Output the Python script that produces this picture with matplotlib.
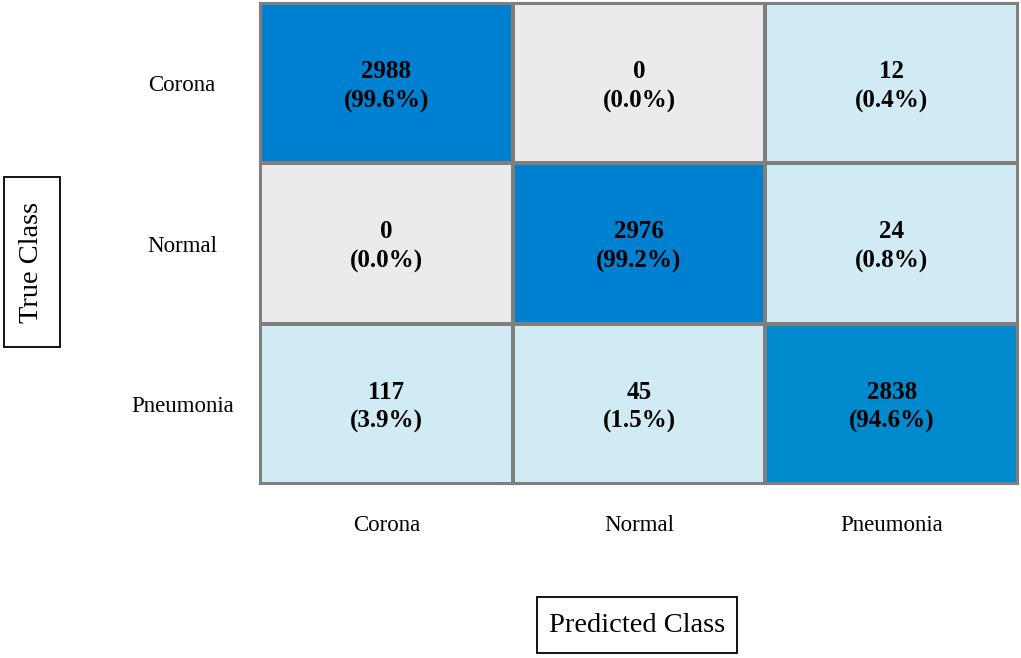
import numpy as np
import matplotlib.pyplot as plt
from matplotlib.colors import ListedColormap
from matplotlib.patches import Rectangle

plt.rcParams['font.family'] = ['Liberation Serif', 'DejaVu Serif']

classes = ['Corona', 'Normal', 'Pneumonia']
counts = np.array([[2988, 0, 12],
                   [0, 2976, 24],
                   [117, 45, 2838]])
percents = np.array([[99.6, 0.0, 0.4],
                     [0.0, 99.2, 0.8],
                     [3.9, 1.5, 94.6]])

# cell colour index: 0 = zero (grey), 1 = off-diagonal (light blue), 2/3 = diagonal
kind = np.where(percents == 0, 0, 1)
for i in range(3):
    kind[i, i] = 2 if percents[i, i] > 98 else 3
cmap = ListedColormap(['#ebebeb', '#d1ebf5', '#0080d0', '#0089cd'])

W, H = 1021, 658
fig = plt.figure(figsize=(W / 100, H / 100), dpi=100)
ax = fig.add_axes([260/W, 1 - 484/H, (1018-260)/W, (484-3)/H])

ax.pcolormesh(kind, cmap=cmap, vmin=-0.5, vmax=3.5,
              edgecolors='#7f7f7f', linewidth=1.5)
ax.set_xlim(0, 3)
ax.set_ylim(3, 0)

for i in range(3):
    for j in range(3):
        ax.text(j + 0.5, i + 0.52, f'{counts[i, j]}\n({percents[i, j]:.1f}%)',
                ha='center', va='center', fontsize=18, fontweight='bold',
                linespacing=1.35)

ax.set_xticks(np.arange(3) + 0.5)
ax.set_xticklabels(classes, fontsize=16.5)
ax.set_yticks(np.arange(3) + 0.5)
ax.set_yticklabels(classes, fontsize=16.5, ha='center')
ax.tick_params(axis='x', length=0, pad=22)
ax.tick_params(axis='y', length=0, pad=56)
for s in ax.spines.values():
    s.set_color('#7f7f7f')
    s.set_linewidth(1.5)

# axis title boxes (pixel geometry of the reference)
def box(x0, y0, x1, y1):
    fig.patches.append(Rectangle((x0 / W, 1 - y1 / H), (x1 - x0) / W, (y1 - y0) / H,
                                 transform=fig.transFigure, fill=False,
                                 ec='black', lw=1.3))

box(4, 177, 60, 347)
fig.text(32/W, 1 - 262/H, 'True Class', rotation=90, ha='center', va='center',
         fontsize=20.5)
box(537, 597, 737, 653)
fig.text(637/W, 1 - 625/H, 'Predicted Class', ha='center', va='center',
         fontsize=20.5)

fig.savefig('out.png', dpi=100)
